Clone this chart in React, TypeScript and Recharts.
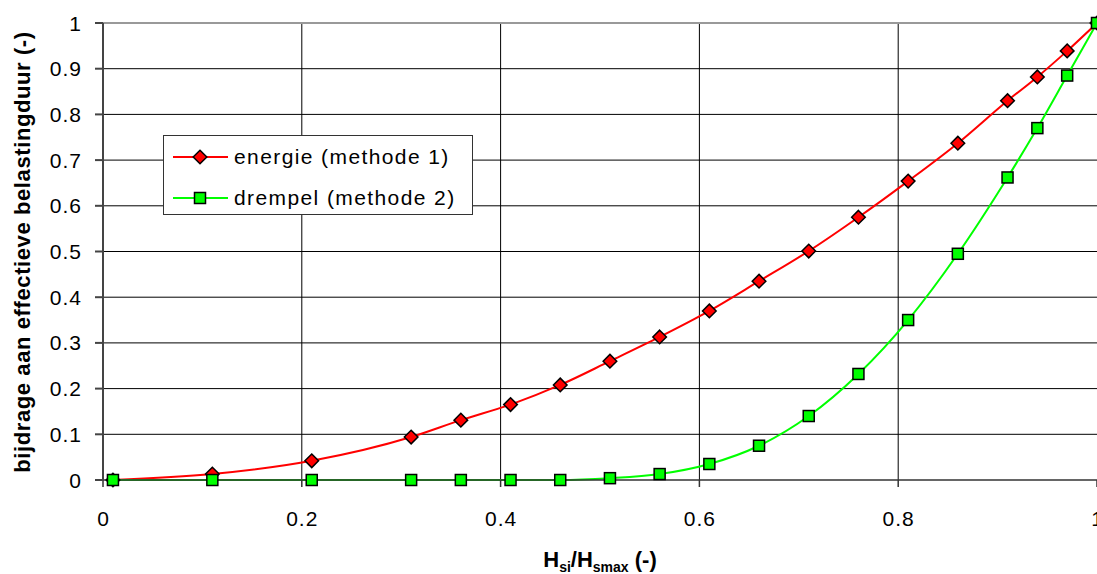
import { LineChart, Line, XAxis, YAxis, CartesianGrid, Legend, ReferenceLine } from "recharts";

const hsRatio = [0.01, 0.11, 0.21, 0.31, 0.36, 0.41, 0.46, 0.51, 0.56, 0.61, 0.66, 0.71, 0.76, 0.81, 0.86, 0.91, 0.94, 0.97, 1.0];
const energie = [0, 0.013, 0.042, 0.094, 0.131, 0.165, 0.208, 0.26, 0.313, 0.37, 0.435, 0.501, 0.575, 0.654, 0.737, 0.83, 0.882, 0.939, 1.0];
const drempel = [0, 0, 0, 0, 0, 0, 0, 0.004, 0.013, 0.035, 0.075, 0.14, 0.232, 0.35, 0.495, 0.662, 0.77, 0.885, 1.0];

const xTicks = [0, 0.2, 0.4, 0.6, 0.8, 1];
const yTicks = [0, 0.1, 0.2, 0.3, 0.4, 0.5, 0.6, 0.7, 0.8, 0.9, 1];

const FONT = '"Liberation Sans", Arial, sans-serif';
const RED = "#ff0000";
const GREEN = "#00ff00";

const data = hsRatio.map((x, i) => ({ x, energie: energie[i], drempel: drempel[i] }));

const Diamond = (props: any) => {
  const { cx, cy } = props;
  if (cx == null || cy == null) return null;
  const r = 6.8;
  return (
    <polygon
      points={`${cx},${cy - r} ${cx + r},${cy} ${cx},${cy + r} ${cx - r},${cy}`}
      fill={RED}
      stroke="#000"
      strokeWidth={1.5}
    />
  );
};

const Square = (props: any) => {
  const { cx, cy } = props;
  if (cx == null || cy == null) return null;
  const r = 5.5;
  return <rect x={cx - r} y={cy - r} width={r * 2} height={r * 2} fill={GREEN} stroke="#000" strokeWidth={1.5} />;
};

const XTick = (props: any) => {
  const { x, y, payload } = props;
  return (
    <text x={x + 0.5} y={y + 15} textAnchor="middle" fontFamily={FONT} fontSize={21} letterSpacing={1} fill="#000">
      {String(payload.value)}
    </text>
  );
};

const YTick = (props: any) => {
  const { x, y, payload } = props;
  return (
    <text x={x + 1} y={y} dy="0.36em" textAnchor="end" fontFamily={FONT} fontSize={21} letterSpacing={1} fill="#000">
      {String(payload.value)}
    </text>
  );
};

const LegendBox = () => (
  <div
    style={{
      position: "relative",
      width: 310,
      height: 80,
      border: "1px solid #333",
      background: "#fff",
      fontFamily: FONT,
      fontSize: 21,
      letterSpacing: 1.4,
      color: "#000",
      boxSizing: "border-box",
    }}
  >
    {[
      { label: "energie (methode 1)", color: RED, Mark: Diamond, top: 21 },
      { label: "drempel (methode 2)", color: GREEN, Mark: Square, top: 62 },
    ].map(({ label, color, Mark, top }) => (
      <div key={label} style={{ position: "absolute", left: 0, top: top - 13, height: 26, display: "flex", alignItems: "center" }}>
        <svg width={70} height={26} style={{ display: "block" }}>
          <line x1={9} y1={13} x2={64} y2={13} stroke={color} strokeWidth={2} />
          <Mark cx={36} cy={13} />
        </svg>
        <span style={{ whiteSpace: "nowrap", lineHeight: "26px" }}>{label}</span>
      </div>
    ))}
  </div>
);

const YTitle = () => (
  <text
    x={22}
    y={252}
    transform="rotate(-90 22 252)"
    textAnchor="middle"
    dominantBaseline="central"
    fontFamily={FONT}
    fontWeight="bold"
    fontSize={22}
    letterSpacing={0.6}
    fill="#000"
  >
    bijdrage aan effectieve belastingduur (-)
  </text>
);

const XTitle = () => (
  <text x={600} y={567} textAnchor="middle" fontFamily={FONT} fontWeight="bold" fontSize={22} fill="#000">
    H
    <tspan fontSize={14} dy={5}>si</tspan>
    <tspan fontSize={22} dy={-5}>/H</tspan>
    <tspan fontSize={14} dy={5}>smax</tspan>
    <tspan fontSize={22} dy={-5}> (-)</tspan>
  </text>
);

export default function App() {
  return (
    <div style={{ position: "absolute", left: 0, top: 0, background: "#fff" }}>
      <LineChart width={1097} height={574} data={data} margin={{ top: 23, right: 0, bottom: 64, left: 0 }}>
        <CartesianGrid
          stroke="#000"
          strokeWidth={1}
          horizontalValues={yTicks.filter((v) => v > 0 && v < 1)}
          verticalValues={[0.2, 0.4, 0.6, 0.8]}
        />
        <ReferenceLine y={1} stroke="#999" strokeWidth={2} />
        <XAxis
          dataKey="x"
          type="number"
          domain={[0, 1]}
          ticks={xTicks}
          height={30}
          stroke="#333"
          strokeWidth={1.5}
          tickSize={7}
          tickMargin={24}
          tick={<XTick />}
          interval={0}
          label={<XTitle />}
        />
        <YAxis
          type="number"
          domain={[0, 1]}
          ticks={yTicks}
          width={103}
          stroke="#444"
          strokeWidth={2}
          tickSize={8}
          tickMargin={14}
          tick={<YTick />}
          interval={0}
          label={<YTitle />}
        />
        <Legend
          layout="horizontal"
          verticalAlign="middle"
          align="center"
          wrapperStyle={{ left: 163, top: 135, width: 310, height: 80 }}
          content={() => <LegendBox />}
        />
        <Line
          type="monotone"
          dataKey="energie"
          name="energie (methode 1)"
          stroke={RED}
          strokeWidth={2}
          dot={<Diamond />}
          activeDot={false}
          isAnimationActive={false}
        />
        <Line
          type="monotone"
          dataKey="drempel"
          name="drempel (methode 2)"
          stroke={GREEN}
          strokeWidth={2}
          dot={<Square />}
          activeDot={false}
          isAnimationActive={false}
        />
      </LineChart>
    </div>
  );
}
